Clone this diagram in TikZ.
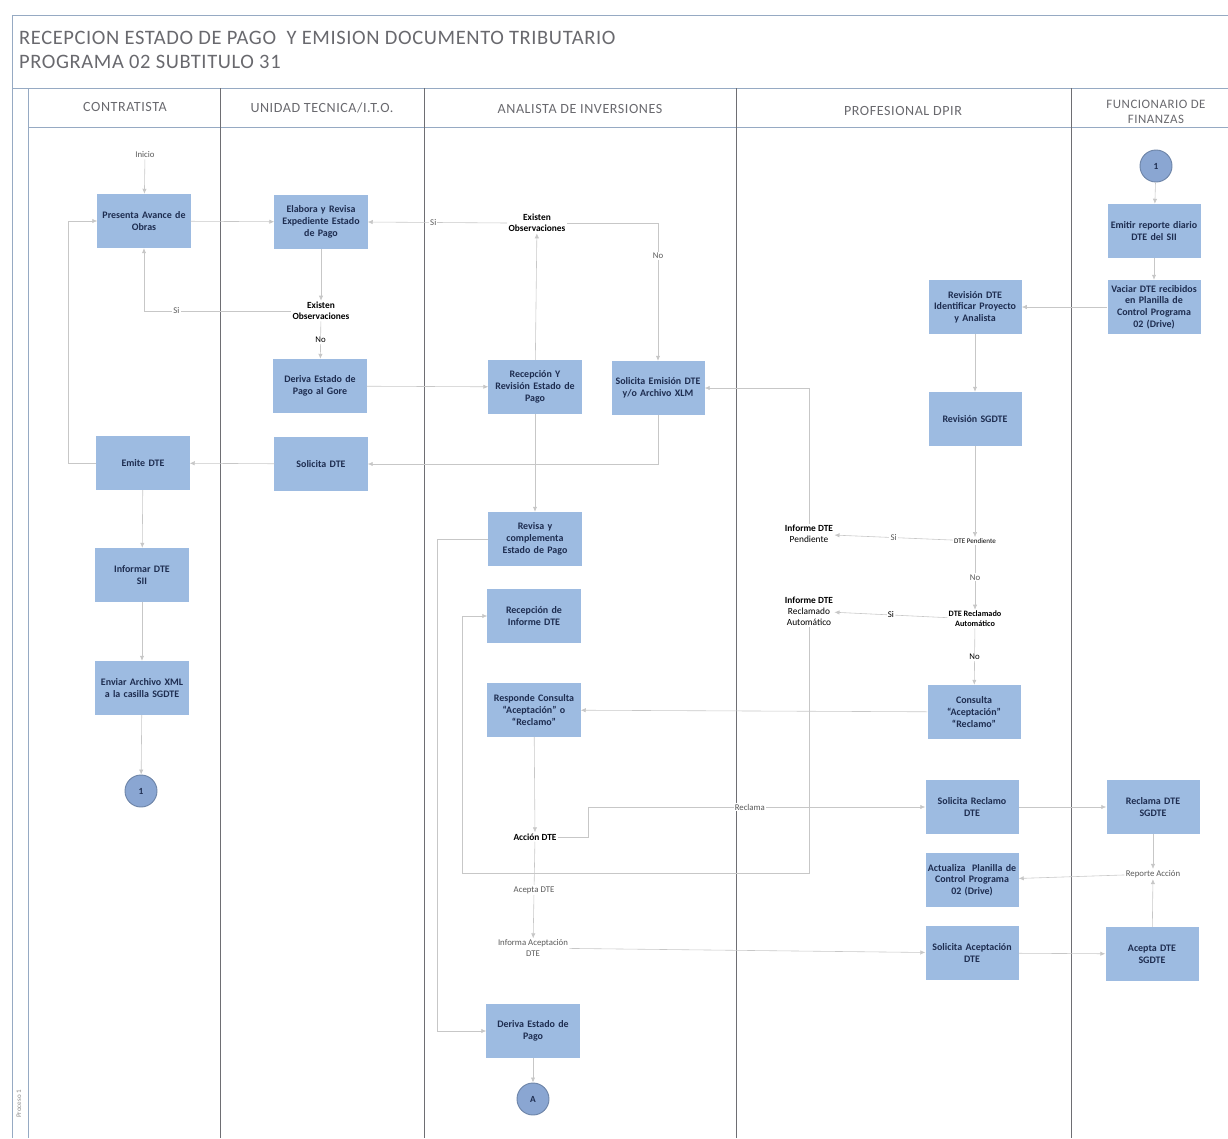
\documentclass[tikz,border=0pt]{standalone}
\usepackage{fontspec}
\setmainfont{Carlito}
\usepackage{xcolor}
\usepackage{tikz}
\usetikzlibrary{arrows.meta, positioning, calc}

\definecolor{boxblue}{RGB}{157,187,225}
\definecolor{circblue}{RGB}{138,166,210}
\definecolor{boxtext}{RGB}{30,45,80}
\definecolor{framecol}{RGB}{150,170,195}
\definecolor{lanecol}{RGB}{110,110,115}
\definecolor{headtext}{RGB}{105,105,110}

\begin{document}
\begin{tikzpicture}[
    x=0.03cm, y=-0.03cm,
    % process boxes (blue fill, no border)
    box/.style={rectangle, fill=boxblue, text=boxtext, inner sep=1pt,
                minimum width=2.76cm, minimum height=1.62cm, text width=2.72cm,
                align=center, font=\fontsize{8.5}{10}\selectfont\bfseries},
    % connector circles
    circ/.style={circle, fill=circblue, draw=circblue!80!black, thick,
                 minimum size=0.96cm, inner sep=0pt, text=boxtext,
                 font=\fontsize{8}{9}\selectfont\bfseries},
    % decision texts and labels
    lbl/.style={align=center, inner sep=1pt, font=\fontsize{8}{9.5}\selectfont\bfseries},
    glbl/.style={align=center, inner sep=1pt, text=black!65,
                 font=\fontsize{7.5}{9}\selectfont},
    lane/.style={align=center, text=headtext,
                 font=\fontsize{12}{14}\selectfont\addfontfeatures{LetterSpace=4}},
    conn/.style={-{Latex[length=1.5mm, width=1.3mm]}, draw=black!22, line width=0.5pt},
]
\useasboundingbox (0,0) rectangle (1228,1138);

%-------- FRAME AND LANES --------
\draw[framecol, line width=0.8pt] (12,1138) -- (12,15) -- (1228,15);
\draw[framecol, line width=0.8pt] (12,88) -- (1228,88);
\draw[framecol, line width=0.8pt] (28,88) -- (28,1138);
\draw[framecol, line width=0.8pt] (28,127) -- (1228,127);
\foreach \lx in {220,424,736,1071}
  \draw[lanecol, line width=0.6pt] (\lx,88) -- (\lx,1138);

\node[anchor=west, text=headtext, align=left,
      font=\fontsize{17.5}{21}\selectfont\addfontfeatures{LetterSpace=3}] (title)
    at (15,50) {RECEPCION ESTADO DE PAGO\ \ Y EMISION DOCUMENTO TRIBUTARIO\\PROGRAMA 02 SUBTITULO 31};
\node[rotate=90, text=black!45, font=\fontsize{6}{7}\selectfont] (proc) at (19,1104) {Proceso 1};

\node[lane] (h1) at (125,107) {CONTRATISTA};
\node[lane] (h2) at (322,108) {UNIDAD TECNICA/I.T.O.};
\node[lane] (h3) at (580,109) {ANALISTA DE INVERSIONES};
\node[lane] (h4) at (903,111) {PROFESIONAL DPIR};
\node[lane, font=\fontsize{11}{13}\selectfont\addfontfeatures{LetterSpace=4}] (h5)
    at (1156,112) {FUNCIONARIO DE\\FINANZAS};

%-------- CONTRATISTA --------
\node[glbl] (inicio) at (145,155) {Inicio};
\node[box] (pres)   at (144,221) {Presenta Avance de\\Obras};
\node[box] (emite)  at (143,463) {Emite DTE};
\node[box] (infsii) at (142,575) {Informar DTE\\SII};
\node[box] (enviar) at (142,688) {Enviar Archivo XML\\a la casilla SGDTE};
\node[circ] (c1a)   at (141,791) {1};

%-------- UNIDAD TECNICA --------
\node[box] (elab)   at (321,222) {Elabora y Revisa\\Expediente Estado\\de Pago};
\node[lbl] (obsut)  at (321,311) {Existen\\Observaciones};
\node[box] (derg)   at (320,386) {Deriva Estado de\\Pago al Gore};
\node[box] (soldte) at (321,464) {Solicita DTE};

%-------- ANALISTA --------
\node[lbl] (obsan)   at (537,223) {Existen\\Observaciones};
\node[box] (recrev)  at (535,387) {Recepción Y\\Revisión Estado de\\Pago};
\node[box] (solem)   at (658,388) {Solicita Emisión DTE\\y/o Archivo XLM};
\node[box] (revisa)  at (535,539) {Revisa y\\complementa\\Estado de Pago};
\node[box] (recinf)  at (534,616) {Recepción de\\Informe DTE};
\node[box] (respon)  at (534,710) {Responde Consulta\\“Aceptación” o\\“Reclamo”};
\node[lbl] (accion)  at (535,837) {Acción DTE};
\node[glbl] (infacep) at (533,948) {Informa Aceptación\\DTE};
\node[box] (deriva)  at (533,1031) {Deriva Estado de\\Pago};
\node[circ] (cA)     at (533,1099) {A};

%-------- PROFESIONAL DPIR --------
\node[box] (revdte)  at (975,307) {Revisión DTE\\Identificar Proyecto\\y Analista};
\node[box] (revsg)   at (975,419) {Revisión SGDTE};
\node[lbl, font=\fontsize{6}{7}\selectfont] (pend) at (975,541) {DTE Pendiente};
\node[lbl] (infpend) at (809,534) {Informe DTE\\{\mdseries Pendiente}};
\node[lbl, font=\fontsize{7}{8.5}\selectfont\bfseries] (recl) at (975,619) {DTE Reclamado\\Automático};
\node[lbl] (infrecl) at (809,611) {Informe DTE\\{\mdseries Reclamado}\\{\mdseries Automático}};
\node[box] (consul)  at (974,712) {Consulta\\“Aceptación”\\“Reclamo”};
\node[box] (solrecl) at (972,807) {Solicita Reclamo\\DTE};
\node[box] (actual)  at (972,880) {Actualiza\ \ Planilla de\\Control Programa\\02 (Drive)};
\node[box] (solacep) at (972,953) {Solicita Aceptación\\DTE};

%-------- FUNCIONARIO DE FINANZAS --------
\node[circ] (c1b)    at (1156,166) {1};
\node[box] (emrep)   at (1154,231) {Emitir reporte diario\\DTE del SII};
\node[box] (vaciar)  at (1154,307) {Vaciar DTE recibidos\\en Planilla de\\Control Programa\\02 (Drive)};
\node[box] (reclsg)  at (1153,807) {Reclama DTE\\SGDTE};
\node[glbl] (reporte) at (1153,874) {Reporte Acción};
\node[box] (acepsg)  at (1152,954) {Acepta DTE\\SGDTE};

%-------- CONNECTORS --------
\draw[conn] (inicio) -- (pres);
\draw[conn] (pres) -- (elab);
\draw[conn] (elab) -- (obsut);
\draw[conn] (obsut.west) -| node[pos=.39, glbl, fill=white] {Si} (pres.south);
\draw[conn] (obsut) -- node[glbl, fill=white, text=black] {No} (derg);
\draw[conn] (derg) -- (recrev);
\draw[conn] (recrev) -- (obsan);
\draw[conn] (obsan.west) -- node[pos=.53, glbl, fill=white] {Si} (elab.east);
\draw[conn] (obsan.east) -| node[pos=.62, glbl, fill=white] {No} (solem.north);
\draw[conn] (solem.south) |- (soldte.east);
\draw[conn] (recrev) -- (revisa);
\draw[conn] (soldte) -- (emite);
\draw[conn] (emite.west) -- ++(-28,0) |- (pres.west);
\draw[conn] (emite) -- (infsii);
\draw[conn] (infsii) -- (enviar);
\draw[conn] (enviar) -- (c1a);

\draw[conn] (c1b) -- (emrep);
\draw[conn] (emrep) -- (vaciar);
\draw[conn] (vaciar) -- (revdte);
\draw[conn] (revdte) -- (revsg);
\draw[conn] (revsg) -- (pend);
\draw[conn] (pend) -- node[glbl, fill=white] {Si} (infpend);
\draw[conn] (pend) -- node[glbl, fill=white] {No} (recl);
\draw[conn] (recl) -- node[glbl, fill=white, text=black] {Si} (infrecl);
\draw[conn] (recl) -- node[glbl, fill=white, text=black] {No} (consul);
\draw[conn] (infpend.north) |- (solem.east);
\draw[conn] (infrecl.south) |- (462,873) |- (recinf.west);

\draw[conn] (consul) -- (respon);
\draw[conn] (respon) -- (accion);
\draw[conn] (accion.east) -- ++(30,0) |- node[pos=.74, glbl, fill=white] {Reclama} (solrecl.west);
\draw[conn] (accion) -- node[pos=.5, glbl, fill=white] {Acepta DTE} (infacep);
\draw[conn] (infacep) -- (solacep);
\draw[conn] (revisa.west) -- ++(-51,0) |- (deriva.west);
\draw[conn] (deriva) -- (cA);

\draw[conn] (solrecl) -- (reclsg);
\draw[conn] (solacep) -- (acepsg);
\draw[conn] (reclsg) -- (reporte);
\draw[conn] (acepsg) -- (reporte);
\draw[conn] (reporte) -- (actual);

\end{tikzpicture}
\end{document}
